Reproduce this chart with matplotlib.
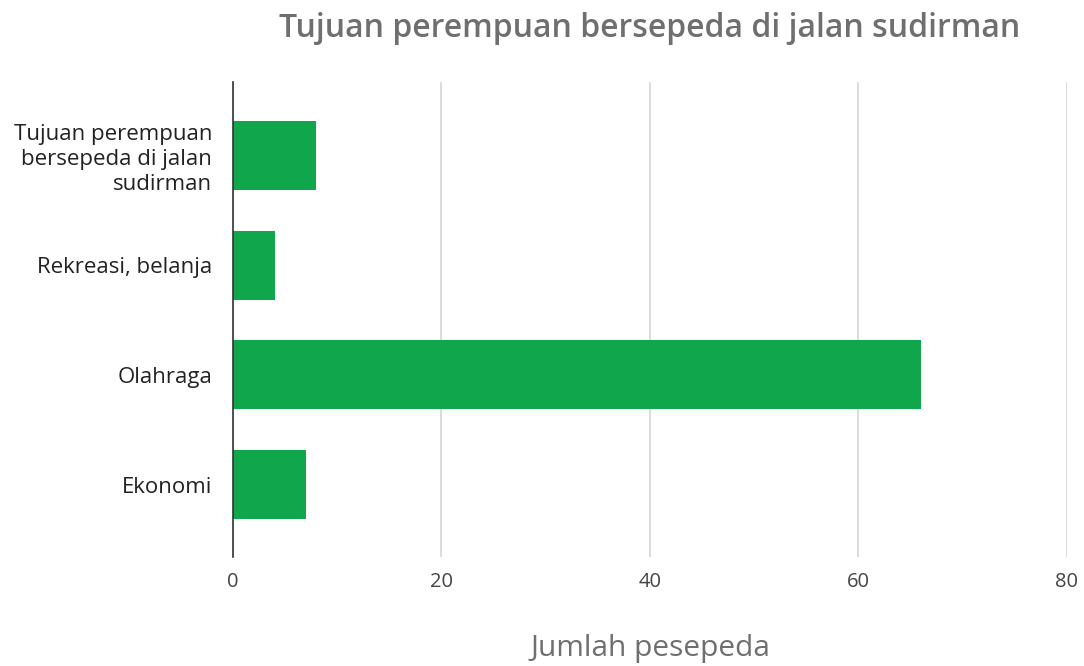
import matplotlib
matplotlib.use("Agg")
import matplotlib.pyplot as plt

plt.rcParams['font.family'] = ['Open Sans', 'DejaVu Sans']

categories = ["Tujuan perempuan\nbersepeda di jalan\nsudirman", "Rekreasi, belanja", "Olahraga", "Ekonomi"]
values = [8, 4, 66, 7]
xticks = [0, 20, 40, 60, 80]

fig = plt.figure(figsize=(10.84, 6.66), dpi=100)
ax = fig.add_axes([0.2149, 0.1637, 0.7694, 0.7132])

ypos = list(range(len(categories)))
ax.barh(ypos, values, height=0.63, color="#0fa64c", zorder=3)
ax.set_ylim(3.66, -0.67)
ax.set_xlim(0, 80)
ax.set_xticks(xticks)
ax.set_xticklabels([str(t) for t in xticks], fontsize=14.5, color="#444444")
ax.set_yticks(ypos)
ax.set_yticklabels(categories, fontsize=16, color="#222222", linespacing=1.25)
ax.tick_params(axis='both', length=0)
ax.tick_params(axis='x', pad=11)
ax.tick_params(axis='y', pad=15)
ax.grid(axis='x', color="#d9d9d9", linewidth=1.3, zorder=0)
for s in ["top", "right", "bottom"]:
    ax.spines[s].set_visible(False)
ax.spines["left"].set_color("#333333")
ax.spines["left"].set_linewidth(1.2)
ax.spines["left"].set_zorder(4)

fig.text(0.5996, 0.957, "Tujuan perempuan bersepeda di jalan sudirman", ha="center", va="center",
         fontsize=23, color="#6f6f6f", fontweight="semibold")
fig.text(0.5996, 0.027, "Jumlah pesepeda", ha="center", va="center", fontsize=21.5, color="#6f6f6f")

fig.savefig("out.png", dpi=100)
